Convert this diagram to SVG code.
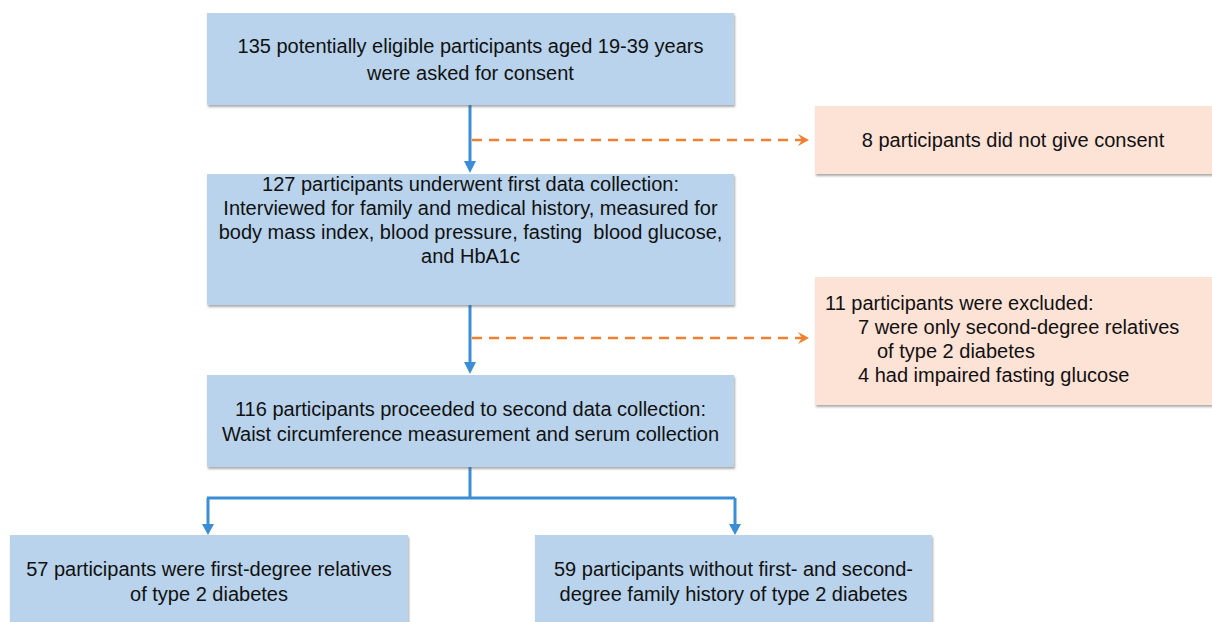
<svg xmlns="http://www.w3.org/2000/svg" width="1212" height="622" viewBox="0 0 1212 622">
<style>
.b{fill:#b8d3eb;filter:url(#sh)}
.p{fill:#fde2d6;filter:url(#sh)}
text{font-family:"Liberation Sans",Arial,sans-serif;font-size:20px;fill:#111;white-space:pre}
.c{text-anchor:middle}
.s{stroke:#3b8ed6;stroke-width:3;fill:none}
.d{stroke:#f0802f;stroke-width:2.5;fill:none;stroke-dasharray:10 7}
</style>
<defs>
<filter id="sh" x="-5%" y="-5%" width="110%" height="120%">
<feDropShadow dx="1" dy="2" stdDeviation="1" flood-color="#555" flood-opacity="0.5"/>
</filter>
<marker id="ao" markerWidth="12" markerHeight="12" refX="10" refY="6" orient="auto" markerUnits="userSpaceOnUse">
<path d="M0,0 L11,6 L0,12 L4,6 Z" fill="#f0802f"/>
</marker>
</defs>
<g id="connectors">
<path class="s" d="M470,105 V166"/>
<path d="M464,161 L476,161 L470,173 Z" fill="#3b8ed6"/>
<path class="s" d="M470,305 V367"/>
<path d="M464,362 L476,362 L470,374 Z" fill="#3b8ed6"/>
<path class="d" d="M472,140 H808" marker-end="url(#ao)"/>
<path class="d" d="M472,338 H808" marker-end="url(#ao)"/>
<path class="s" d="M470,467 V498 M207,498 H735 M208,498 V528 M735,498 V528"/>
<path d="M202,524 L214,524 L208,535 Z" fill="#3b8ed6"/>
<path d="M729,524 L741,524 L735,535 Z" fill="#3b8ed6"/>
</g>
<g id="n1">
<rect class="b" x="207" y="13" width="527" height="92"/>
<text class="c" x="470.5" y="53">135 potentially eligible participants aged 19-39 years</text>
<text class="c" x="470.5" y="80">were asked for consent</text>
</g>
<g id="n2">
<rect class="b" x="207" y="174" width="527" height="131"/>
<text class="c" x="470.5" y="191">127 participants underwent first data collection:</text>
<text class="c" x="470.5" y="215">Interviewed for family and medical history, measured for</text>
<text class="c" x="470.5" y="239">body mass index, blood pressure, fasting  blood glucose,</text>
<text class="c" x="470.5" y="263">and HbA1c</text>
</g>
<g id="n3">
<rect class="b" x="207" y="375" width="527" height="92"/>
<text class="c" x="470.5" y="416">116 participants proceeded to second data collection:</text>
<text class="c" x="470.5" y="441">Waist circumference measurement and serum collection</text>
</g>
<g id="n4">
<rect class="p" x="815" y="106" width="400" height="68"/>
<text class="c" x="1013" y="147">8 participants did not give consent</text>
</g>
<g id="n5">
<rect class="p" x="815" y="277" width="400" height="128"/>
<text x="825" y="310">11 participants were excluded:</text>
<text x="858" y="334">7 were only second-degree relatives</text>
<text x="877" y="358">of type 2 diabetes</text>
<text x="858" y="382">4 had impaired fasting glucose</text>
</g>
<g id="n6">
<rect class="b" x="10" y="535" width="398" height="95"/>
<text class="c" x="209" y="576">57 participants were first-degree relatives</text>
<text class="c" x="209" y="601">of type 2 diabetes</text>
</g>
<g id="n7">
<rect class="b" x="535" y="535" width="397" height="95"/>
<text class="c" x="733.5" y="576">59 participants without first- and second-</text>
<text class="c" x="733.5" y="601">degree family history of type 2 diabetes</text>
</g>
</svg>
